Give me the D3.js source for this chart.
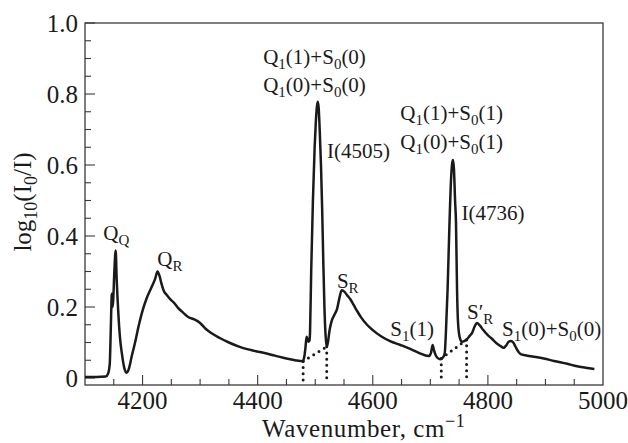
<!DOCTYPE html>
<html>
<head>
<meta charset="utf-8">
<script src="https://cdn.jsdelivr.net/npm/d3@7"></script>
<style>
  html, body { margin: 0; padding: 0; background: #fff; }
  svg { display: block; }
  text { font-family: "Liberation Serif", "Times New Roman", serif; fill: #1a1a1a; }
</style>
</head>
<body>
<svg id="chart" width="628" height="443"></svg>
<script>
// Absorption spectrum: wavenumber (cm^-1) and log10(I0/I)
const wavenumber = [
  4100, 4120, 4136, 4140, 4143, 4145, 4146.5, 4147.5, 4148, 4149, 4151, 4153.3, 4155, 4158, 4161, 4164, 4168,
  4172.5, 4176, 4181, 4187, 4193, 4200, 4207, 4216, 4222, 4226, 4230, 4233, 4237, 4242, 4248, 4254, 4262,
  4270, 4280, 4290, 4300, 4310, 4320, 4335, 4350, 4370, 4390, 4410, 4430, 4450, 4465, 4478, 4481, 4483,
  4485, 4486, 4488, 4490, 4491, 4493, 4496, 4499, 4501, 4503, 4504.5, 4506, 4508, 4510, 4512, 4514, 4516,
  4518, 4520, 4522, 4525, 4529, 4534, 4538, 4542, 4546, 4550, 4556, 4561, 4567, 4573, 4580, 4590, 4600,
  4615, 4630, 4648, 4665, 4680, 4697, 4701, 4704, 4706, 4710, 4714, 4718, 4722, 4725, 4727, 4730, 4733,
  4736, 4738, 4739.4, 4741, 4743, 4744.6, 4746.4, 4748, 4751, 4755, 4759, 4763, 4768, 4772.5, 4777, 4781,
  4786, 4792, 4799, 4806, 4815, 4822, 4827, 4832, 4836, 4840, 4844, 4848, 4853, 4857, 4865, 4880, 4897,
  4915, 4938, 4955, 4970, 4985
];
const absorbance = [
  0.003, 0.003, 0.004, 0.012, 0.04, 0.15, 0.234, 0.238, 0.2, 0.22, 0.30, 0.359, 0.28, 0.18, 0.11, 0.07, 0.03,
  0.015, 0.025, 0.06, 0.10, 0.145, 0.19, 0.224, 0.257, 0.28, 0.30, 0.285, 0.265, 0.245, 0.234, 0.222, 0.213, 0.197,
  0.185, 0.171, 0.165, 0.155, 0.138, 0.126, 0.112, 0.100, 0.087, 0.078, 0.071, 0.063, 0.055, 0.05, 0.047, 0.06, 0.085,
  0.116, 0.112, 0.102, 0.105, 0.13, 0.3, 0.5, 0.65, 0.72, 0.765, 0.778, 0.76, 0.69, 0.6, 0.48, 0.33, 0.2,
  0.12, 0.088, 0.1, 0.135, 0.163, 0.18, 0.195, 0.225, 0.247, 0.244, 0.232, 0.222, 0.205, 0.188, 0.17, 0.15, 0.135,
  0.117, 0.104, 0.093, 0.082, 0.071, 0.062, 0.07, 0.093, 0.08, 0.062, 0.055, 0.053, 0.058, 0.07, 0.126, 0.25, 0.42,
  0.56, 0.605, 0.614, 0.59, 0.5, 0.437, 0.25, 0.16, 0.115, 0.102, 0.104, 0.108, 0.118, 0.127, 0.145, 0.155,
  0.148, 0.135, 0.122, 0.112, 0.098, 0.09, 0.085, 0.092, 0.102, 0.104, 0.1, 0.088, 0.074, 0.067, 0.064, 0.06, 0.055,
  0.048, 0.04, 0.033, 0.029, 0.025
];

// Baseline construction under the two induced bands (dotted)
const baselineStart = [4479, 4719];
const baselineStartValue = [0.047, 0.055];
const baselineEnd = [4520, 4763];
const baselineEndValue = [0.088, 0.108];

// Axis ticks
const xTicks = [4200, 4400, 4600, 4800, 5000];
const yTicks = [0, 0.2, 0.4, 0.6, 0.8, 1.0];
const yTickLabels = ["0", "0.2", "0.4", "0.6", "0.8", "1.0"];

// Band assignments: segments of [text, kind] with anchor (wavenumber, value)
const bandLabels = [
  { parts: [["Q", "n"], ["1", "sub"], ["(1)+S", "n"], ["0", "sub"], ["(0)", "n"]], x: 4409.6, y: 0.885 },
  { parts: [["Q", "n"], ["1", "sub"], ["(0)+S", "n"], ["0", "sub"], ["(0)", "n"]], x: 4409.6, y: 0.806 },
  { parts: [["I(4505)", "n"]], x: 4520.3, y: 0.62 },
  { parts: [["Q", "n"], ["1", "sub"], ["(1)+S", "n"], ["0", "sub"], ["(1)", "n"]], x: 4647.8, y: 0.727 },
  { parts: [["Q", "n"], ["1", "sub"], ["(0)+S", "n"], ["0", "sub"], ["(1)", "n"]], x: 4647.8, y: 0.645 },
  { parts: [["I(4736)", "n"]], x: 4754, y: 0.445 },
  { parts: [["Q", "n"], ["Q", "sub"]], x: 4131.8, y: 0.389 },
  { parts: [["Q", "n"], ["R", "sub"]], x: 4225.7, y: 0.315 },
  { parts: [["S", "n"], ["R", "sub"]], x: 4537.7, y: 0.254 },
  { parts: [["S", "n"], ["1", "sub"], ["(1)", "n"]], x: 4630.4, y: 0.118 },
  { parts: [["S\u2032", "n"], ["R", "sub"]], x: 4763.8, y: 0.166 },
  { parts: [["S", "n"], ["1", "sub"], ["(0)+S", "n"], ["0", "sub"], ["(0)", "n"]], x: 4824.7, y: 0.118 }
];

const svg = d3.select("#chart");
const margin = { left: 85, right: 25, top: 23, bottom: 58 };
const W = 628, H = 443;
const plotW = W - margin.left - margin.right;
const plotH = H - margin.top - margin.bottom;

const x = d3.scaleLinear().domain([4100, 5000]).range([margin.left, margin.left + plotW]);
const y = d3.scaleLinear().domain([-0.0197, 1.0]).range([margin.top + plotH, margin.top]);

const ink = "#1a1a1a";
const frameColor = "#3a3a3a";

// Ticks (pointing inward)
const g = svg.append("g");
const xMinor = d3.range(4150, 5000, 50);
g.selectAll("line.xminor").data(xMinor).join("line")
  .attr("x1", d => x(d)).attr("x2", d => x(d))
  .attr("y1", y.range()[0]).attr("y2", d => y.range()[0] - (xTicks.includes(d) ? 10 : 6))
  .attr("stroke", frameColor).attr("stroke-width", 1.1);
const yMinor = d3.range(0, 1.0001, 0.05);
g.selectAll("line.yminor").data(yMinor).join("line")
  .attr("x1", x.range()[0])
  .attr("x2", d => x.range()[0] + (Math.abs(d * 5 - Math.round(d * 5)) < 1e-6 ? 10 : 6))
  .attr("y1", d => y(d)).attr("y2", d => y(d))
  .attr("stroke", frameColor).attr("stroke-width", 1.1);

// Frame
svg.append("rect")
  .attr("x", x.range()[0]).attr("y", y.range()[1])
  .attr("width", plotW).attr("height", plotH)
  .attr("fill", "none").attr("stroke", frameColor).attr("stroke-width", 1.3);

// Tick labels
svg.append("g").selectAll("text").data(xTicks).join("text")
  .attr("x", d => x(d)).attr("y", y.range()[0] + 24)
  .attr("text-anchor", "middle").attr("font-size", 25)
  .text(d => d);
svg.append("g").selectAll("text").data(yTicks).join("text")
  .attr("x", x.range()[0] - 7).attr("y", d => y(d) + 8.5)
  .attr("text-anchor", "end").attr("font-size", 25)
  .text((d, i) => yTickLabels[i]);

// Axis titles
const xt = svg.append("text")
  .attr("x", 262).attr("y", 437).attr("font-size", 25)
  .attr("letter-spacing", 0.6);
xt.append("tspan").text("Wavenumber, cm");
xt.append("tspan").attr("dy", -10).attr("font-size", 18).text("\u22121");

const yt = svg.append("text")
  .attr("transform", "translate(31,202) rotate(-90)")
  .attr("text-anchor", "middle").attr("font-size", 25);
yt.append("tspan").text("log");
yt.append("tspan").attr("dy", 6).attr("font-size", 18).text("10");
yt.append("tspan").attr("dy", -6).text("(I");
yt.append("tspan").attr("dy", 6).attr("font-size", 18).text("0");
yt.append("tspan").attr("dy", -6).text("/I)");

// Dotted baseline construction
const dotStyle = sel => sel.attr("stroke", ink).attr("stroke-width", 3)
  .attr("stroke-linecap", "round").attr("stroke-dasharray", "0 6.2").attr("fill", "none");
const verticals = [];
baselineStart.forEach((w, i) => {
  verticals.push([w, baselineStartValue[i]]);
  verticals.push([baselineEnd[i], baselineEndValue[i]]);
});
svg.append("g").selectAll("line").data(verticals).join("line")
  .attr("x1", d => x(d[0])).attr("x2", d => x(d[0]))
  .attr("y1", d => y(d[1])).attr("y2", y.range()[0] - 3)
  .call(dotStyle);
svg.append("g").selectAll("line").data(baselineStart).join("line")
  .attr("x1", d => x(d)).attr("y1", (d, i) => y(baselineStartValue[i]))
  .attr("x2", (d, i) => x(baselineEnd[i])).attr("y2", (d, i) => y(baselineEndValue[i]))
  .call(dotStyle);

// Spectrum
const pts = wavenumber.map((w, i) => [w, absorbance[i]]);
const line = d3.line().x(d => x(d[0])).y(d => y(d[1])).curve(d3.curveMonotoneX);
svg.append("path").datum(pts)
  .attr("d", line)
  .attr("fill", "none").attr("stroke", ink).attr("stroke-width", 2.5)
  .attr("stroke-linejoin", "round");

// Band labels
const lab = svg.append("g");
bandLabels.forEach(b => {
  const t = lab.append("text").attr("x", x(b.x)).attr("y", y(b.y)).attr("font-size", 21);
  let shifted = 0;
  b.parts.forEach(([s, kind]) => {
    const ts = t.append("tspan").text(s);
    if (kind === "sub") {
      ts.attr("dy", 5 - shifted).attr("font-size", 15);
      shifted = 5;
    } else {
      ts.attr("dy", -shifted);
      shifted = 0;
    }
  });
});
</script>
</body>
</html>
